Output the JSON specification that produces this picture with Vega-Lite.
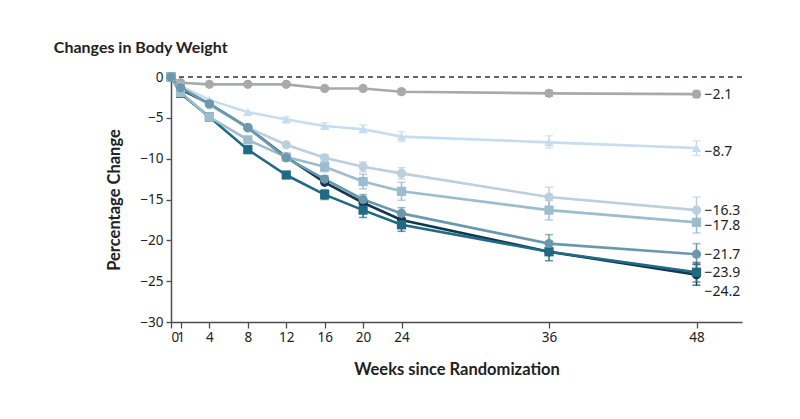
{
  "$schema": "https://vega.github.io/schema/vega-lite/v6.json",
  "autosize": {"type": "none"},
  "width": 571,
  "height": 245,
  "padding": {"left": 171, "top": 77, "right": 58, "bottom": 97},
  "background": "white",
  "title": {"text": "Changes in Body Weight", "anchor": "start", "dx": -53, "offset": 14, "font": "Lato", "fontSize": 16, "fontWeight": "bold", "color": "#222222"},
  "config": {
    "view": {"stroke": null},
    "axis": {"grid": false, "domainColor": "#4d4d4d", "domainWidth": 1.5, "tickColor": "#4d4d4d", "tickWidth": 1.3, "labelFont": "Noto Sans", "labelFontSize": 13.5, "labelColor": "#222222", "titleFont": "Lato", "titleFontSize": 16.5, "titleFontWeight": "bold", "titleColor": "#222222"}
  },
  "datasets": {
    "rows": [
      {"series": "12 mg", "week": 0, "value": 0},
      {"series": "12 mg", "week": 1, "value": -1.5},
      {"series": "12 mg", "week": 4, "value": -3.3},
      {"series": "12 mg", "week": 8, "value": -6.2},
      {"series": "12 mg", "week": 12, "value": -9.8},
      {"series": "12 mg", "week": 16, "value": -12.9},
      {"series": "12 mg", "week": 20, "value": -15.4},
      {"series": "12 mg", "week": 24, "value": -17.5},
      {"series": "12 mg", "week": 36, "value": -21.4},
      {"series": "12 mg", "week": 48, "value": -24.2, "lo": -25.5, "hi": -22.9},
      {"series": "8 mg (4 mg start)", "week": 0, "value": 0},
      {"series": "8 mg (4 mg start)", "week": 1, "value": -2.0},
      {"series": "8 mg (4 mg start)", "week": 4, "value": -4.9},
      {"series": "8 mg (4 mg start)", "week": 8, "value": -8.9},
      {"series": "8 mg (4 mg start)", "week": 12, "value": -12.0},
      {"series": "8 mg (4 mg start)", "week": 16, "value": -14.4, "lo": -15.0, "hi": -13.8},
      {"series": "8 mg (4 mg start)", "week": 20, "value": -16.3, "lo": -17.2, "hi": -15.4},
      {"series": "8 mg (4 mg start)", "week": 24, "value": -18.1, "lo": -18.9, "hi": -17.3},
      {"series": "8 mg (4 mg start)", "week": 36, "value": -21.4, "lo": -22.5, "hi": -20.3},
      {"series": "8 mg (4 mg start)", "week": 48, "value": -23.9, "lo": -25.1, "hi": -22.7},
      {"series": "Placebo", "week": 0, "value": 0},
      {"series": "Placebo", "week": 1, "value": -0.7},
      {"series": "Placebo", "week": 4, "value": -0.9},
      {"series": "Placebo", "week": 8, "value": -0.9},
      {"series": "Placebo", "week": 12, "value": -0.9},
      {"series": "Placebo", "week": 16, "value": -1.4},
      {"series": "Placebo", "week": 20, "value": -1.4},
      {"series": "Placebo", "week": 24, "value": -1.8, "lo": -2.1, "hi": -1.5},
      {"series": "Placebo", "week": 36, "value": -2.0, "lo": -2.35, "hi": -1.65},
      {"series": "Placebo", "week": 48, "value": -2.1, "lo": -2.5, "hi": -1.7},
      {"series": "1 mg", "week": 0, "value": 0},
      {"series": "1 mg", "week": 1, "value": -1.1},
      {"series": "1 mg", "week": 4, "value": -2.8},
      {"series": "1 mg", "week": 8, "value": -4.3},
      {"series": "1 mg", "week": 12, "value": -5.2, "lo": -5.5, "hi": -4.9},
      {"series": "1 mg", "week": 16, "value": -6.0, "lo": -6.4, "hi": -5.6},
      {"series": "1 mg", "week": 20, "value": -6.4, "lo": -6.8, "hi": -5.9},
      {"series": "1 mg", "week": 24, "value": -7.3, "lo": -7.9, "hi": -6.7},
      {"series": "1 mg", "week": 36, "value": -8.0, "lo": -8.7, "hi": -7.2},
      {"series": "1 mg", "week": 48, "value": -8.7, "lo": -9.6, "hi": -7.8},
      {"series": "4 mg (2 mg start)", "week": 0, "value": 0},
      {"series": "4 mg (2 mg start)", "week": 1, "value": -1.2},
      {"series": "4 mg (2 mg start)", "week": 4, "value": -3.4},
      {"series": "4 mg (2 mg start)", "week": 8, "value": -6.2},
      {"series": "4 mg (2 mg start)", "week": 12, "value": -8.3},
      {"series": "4 mg (2 mg start)", "week": 16, "value": -9.9, "lo": -10.3, "hi": -9.5},
      {"series": "4 mg (2 mg start)", "week": 20, "value": -11.0, "lo": -11.6, "hi": -10.4},
      {"series": "4 mg (2 mg start)", "week": 24, "value": -11.8, "lo": -12.5, "hi": -11.1},
      {"series": "4 mg (2 mg start)", "week": 36, "value": -14.7, "lo": -15.9, "hi": -13.5},
      {"series": "4 mg (2 mg start)", "week": 48, "value": -16.3, "lo": -17.9, "hi": -14.7},
      {"series": "4 mg", "week": 0, "value": 0},
      {"series": "4 mg", "week": 1, "value": -1.9},
      {"series": "4 mg", "week": 4, "value": -4.9},
      {"series": "4 mg", "week": 8, "value": -7.7},
      {"series": "4 mg", "week": 12, "value": -9.8},
      {"series": "4 mg", "week": 16, "value": -11.0, "lo": -11.6, "hi": -10.4},
      {"series": "4 mg", "week": 20, "value": -12.8, "lo": -13.7, "hi": -11.9},
      {"series": "4 mg", "week": 24, "value": -14.0, "lo": -15.1, "hi": -12.9},
      {"series": "4 mg", "week": 36, "value": -16.3, "lo": -17.5, "hi": -15.1},
      {"series": "4 mg", "week": 48, "value": -17.8, "lo": -19.1, "hi": -16.5},
      {"series": "8 mg (2 mg start)", "week": 0, "value": 0},
      {"series": "8 mg (2 mg start)", "week": 1, "value": -1.3},
      {"series": "8 mg (2 mg start)", "week": 4, "value": -3.3},
      {"series": "8 mg (2 mg start)", "week": 8, "value": -6.2},
      {"series": "8 mg (2 mg start)", "week": 12, "value": -9.9},
      {"series": "8 mg (2 mg start)", "week": 16, "value": -12.5, "lo": -12.9, "hi": -12.1},
      {"series": "8 mg (2 mg start)", "week": 20, "value": -15.0, "lo": -15.6, "hi": -14.4},
      {"series": "8 mg (2 mg start)", "week": 24, "value": -16.7, "lo": -17.4, "hi": -16.0},
      {"series": "8 mg (2 mg start)", "week": 36, "value": -20.4, "lo": -21.5, "hi": -19.3},
      {"series": "8 mg (2 mg start)", "week": 48, "value": -21.7, "lo": -23.0, "hi": -20.4}
    ]
  },
  "data": {"name": "rows"},
  "encoding": {
    "x": {"field": "week", "type": "quantitative",
      "scale": {"domain": [0, 24, 48, 51.7], "range": [0, 230.5, 525.5, 571]},
      "axis": {"values": [0, 1, 4, 8, 12, 16, 20, 24, 36, 48], "title": "Weeks since Randomization", "tickSize": 6, "labelPadding": 2, "labelOverlap": false, "titlePadding": 18}},
    "y": {"field": "value", "type": "quantitative",
      "scale": {"domain": [-30, 0], "nice": false, "zero": false},
      "axis": {"values": [0, -5, -10, -15, -20, -25, -30], "title": "Percentage Change", "tickSize": 5, "labelPadding": 3, "titlePadding": 17}},
    "color": {"field": "series", "type": "nominal", "legend": null,
      "scale": {"domain": ["12 mg", "8 mg (4 mg start)", "Placebo", "1 mg", "4 mg (2 mg start)", "4 mg", "8 mg (2 mg start)"],
        "range": ["#12384f", "#206a86", "#a7a9ac", "#c6dcef", "#bccfdd", "#9dbccd", "#6b98ad"]}}
  },
  "layer": [
    {"mark": {"type": "rule", "strokeDash": [5, 4], "color": "#333333", "strokeWidth": 1.3},
      "data": {"values": [{"v": 0}]},
      "encoding": {"y": {"field": "v", "type": "quantitative"}, "x": null, "color": null}},
    {"transform": [{"filter": "datum.lo != null"}],
      "mark": {"type": "rule", "strokeWidth": 1.5},
      "encoding": {"y": {"field": "lo", "type": "quantitative"}, "y2": {"field": "hi"}}},
    {"transform": [{"filter": "datum.lo != null"}],
      "mark": {"type": "tick", "orient": "horizontal", "size": 8, "thickness": 1.5},
      "encoding": {"y": {"field": "lo", "type": "quantitative"}}},
    {"transform": [{"filter": "datum.lo != null"}],
      "mark": {"type": "tick", "orient": "horizontal", "size": 8, "thickness": 1.5},
      "encoding": {"y": {"field": "hi", "type": "quantitative"}}},
    {"mark": {"type": "line", "strokeWidth": 2.6}},
    {"mark": {"type": "point", "filled": true, "opacity": 1},
      "encoding": {
        "shape": {"field": "series", "type": "nominal", "legend": null,
          "scale": {"domain": ["12 mg", "8 mg (4 mg start)", "Placebo", "1 mg", "4 mg (2 mg start)", "4 mg", "8 mg (2 mg start)"],
            "range": ["circle", "square", "circle", "triangle-up", "circle", "square", "circle"]}},
        "size": {"value": 85}}},
    {"transform": [{"filter": "datum.week == 48 && (datum.series == 'Placebo' || datum.series == '4 mg (2 mg start)' || datum.series == '8 mg (2 mg start)' || datum.series == '8 mg (4 mg start)')"}],
      "mark": {"type": "text", "align": "left", "baseline": "middle", "dx": 8, "dy": 1, "font": "Noto Sans", "fontSize": 14, "color": "#222222"},
      "encoding": {"text": {"field": "value", "type": "quantitative", "format": ".1f"}, "color": null}},
    {"transform": [{"filter": "datum.week == 48 && (datum.series == '1 mg' || datum.series == '4 mg')"}],
      "mark": {"type": "text", "align": "left", "baseline": "middle", "dx": 8, "dy": 4, "font": "Noto Sans", "fontSize": 14, "color": "#222222"},
      "encoding": {"text": {"field": "value", "type": "quantitative", "format": ".1f"}, "color": null}},
    {"transform": [{"filter": "datum.week == 48 && datum.series == '12 mg'"}],
      "mark": {"type": "text", "align": "left", "baseline": "middle", "dx": 8, "dy": 17, "font": "Noto Sans", "fontSize": 14, "color": "#222222"},
      "encoding": {"text": {"field": "value", "type": "quantitative", "format": ".1f"}, "color": null}}
  ]
}
